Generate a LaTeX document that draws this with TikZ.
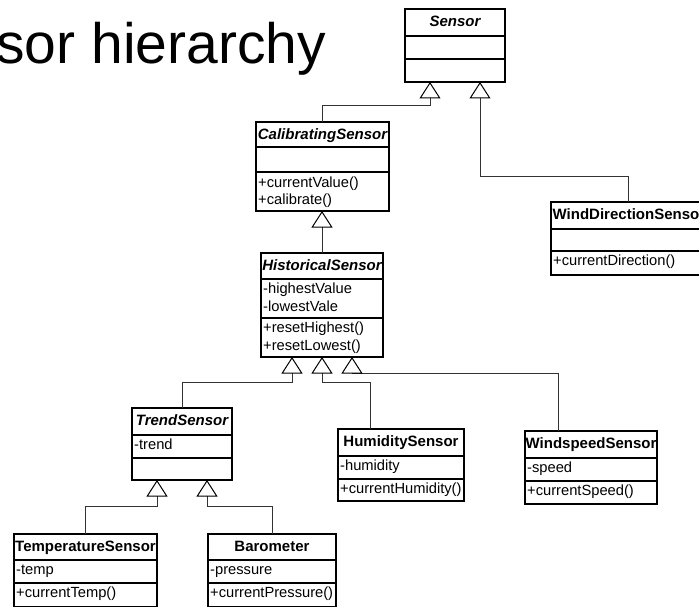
\documentclass[tikz,border=0pt]{standalone}
\usepackage{fontspec}
\setmainfont{Liberation Sans}
\usetikzlibrary{arrows.meta,calc}

\tikzset{
  classbox/.style={draw=black, line width=1.1pt, fill=white, inner sep=0pt,
                   outer sep=0pt, anchor=north west},
  divider/.style={draw=black, line width=1.1pt},
  ttl/.style={font=\fontsize{15}{18}\selectfont\bfseries, anchor=base, inner sep=0pt},
  abstitle/.style={ttl, font=\fontsize{15}{18}\selectfont\bfseries\itshape},
  mem/.style={font=\fontsize{14.7}{17.5}\selectfont, anchor=base west, inner sep=0pt},
  gen/.style={draw=black!80, line width=0.9pt,
              -{Triangle[open, length=16.5pt, width=21pt, color=black, line width=1pt]}},
}

% horizontal compartment line across a class box at height #2
\newcommand\cdiv[2]{\draw[divider] (#1.west |- 0,#2) -- (#1.east |- 0,#2);}

\begin{document}
\begin{tikzpicture}[x=1pt, y=-1pt]
  \clip (0,0) rectangle (699,607);
  \fill[white] (0,0) rectangle (699,607);

  % heading
  \node[font=\fontsize{57}{60}\selectfont, anchor=base east, inner sep=0pt]
    (heading) at (326,63.5) {sor hierarchy};

  % ---------- Sensor ----------
  \node[classbox, minimum width=100pt, minimum height=73pt] (sensor) at (405,9) {};
  \cdiv{sensor}{36} \cdiv{sensor}{59}
  \node[abstitle] (sensor-t) at ($(sensor.north)+(0,17.5)$) {Sensor};

  % ---------- CalibratingSensor ----------
  \node[classbox, minimum width=133pt, minimum height=89pt] (calib) at (256,122) {};
  \cdiv{calib}{147} \cdiv{calib}{172}
  \begin{scope}
    \clip (calib.north west) rectangle (calib.south east);
    \node[abstitle] (calib-t) at ($(calib.north)+(0,17.5)$) {CalibratingSensor};
  \end{scope}
  \node[mem] (calib-o1) at (258,187) {+currentValue()};
  \node[mem] (calib-o2) at (258,204.5) {+calibrate()};

  % ---------- WindDirectionSensor ----------
  \node[classbox, minimum width=154pt, minimum height=73pt] (wdir) at (551,202) {};
  \cdiv{wdir}{229} \cdiv{wdir}{251}
  \node[ttl, anchor=base west] (wdir-t) at (552.5,219.5) {WindDirectionSenso};
  \node[mem] (wdir-o1) at (553,265.5) {+currentDirection()};

  % ---------- HistoricalSensor ----------
  \node[classbox, minimum width=122pt, minimum height=104pt] (hist) at (261,253) {};
  \cdiv{hist}{279} \cdiv{hist}{318}
  \begin{scope}
    \clip (hist.north west) rectangle (hist.south east);
    \node[abstitle] (hist-t) at ($(hist.north)+(0,17.5)$) {HistoricalSensor};
  \end{scope}
  \node[mem] (hist-a1) at (263,293.5) {-highestValue};
  \node[mem] (hist-a2) at (263,311.5) {-lowestVale};
  \node[mem] (hist-o1) at (263,332.5) {+resetHighest()};
  \node[mem] (hist-o2) at (263,350.5) {+resetLowest()};

  % ---------- TrendSensor ----------
  \node[classbox, minimum width=100pt, minimum height=72pt] (trend) at (132,408) {};
  \cdiv{trend}{435} \cdiv{trend}{458}
  \begin{scope}
    \clip (trend.north west) rectangle (trend.south east);
    \node[abstitle] (trend-t) at ($(trend.north)+(0,17.5)$) {TrendSensor};
  \end{scope}
  \node[mem] (trend-a1) at (134,449.5) {-trend};

  % ---------- HumiditySensor ----------
  \node[classbox, minimum width=126pt, minimum height=72pt] (humid) at (338,429) {};
  \cdiv{humid}{456} \cdiv{humid}{479}
  \node[ttl] (humid-t) at ($(humid.north)+(0,17.5)$) {HumiditySensor};
  \node[mem] (humid-a1) at (340,470.5) {-humidity};
  \node[mem] (humid-o1) at (340,493.5) {+currentHumidity()};

  % ---------- WindspeedSensor ----------
  \node[classbox, minimum width=132pt, minimum height=73pt] (wspeed) at (525,431) {};
  \cdiv{wspeed}{458} \cdiv{wspeed}{481}
  \node[ttl] (wspeed-t) at ($(wspeed.north)+(0,17.5)$) {WindspeedSensor};
  \node[mem] (wspeed-a1) at (527,472.5) {-speed};
  \node[mem] (wspeed-o1) at (527,495.5) {+currentSpeed()};

  % ---------- TemperatureSensor ----------
  \node[classbox, minimum width=143pt, minimum height=73pt] (temp) at (14,534) {};
  \cdiv{temp}{560} \cdiv{temp}{583}
  \node[ttl] (temp-t) at ($(temp.north)+(0,17.5)$) {TemperatureSensor};
  \node[mem] (temp-a1) at (16,574.5) {-temp};
  \node[mem] (temp-o1) at (16,597.5) {+currentTemp()};

  % ---------- Barometer ----------
  \node[classbox, minimum width=128pt, minimum height=73pt] (baro) at (208,534) {};
  \cdiv{baro}{560} \cdiv{baro}{583}
  \node[ttl] (baro-t) at ($(baro.north)+(0,17.5)$) {Barometer};
  \node[mem] (baro-a1) at (210,574.5) {-pressure};
  \node[mem] (baro-o1) at (210,597.5) {+currentPressure()};

  % ---------- generalisations ----------
  \draw[gen] (calib.north) -- ++(0,-16.5) -| ($(sensor.south west)+(25,0)$);
  \draw[gen] (wdir.north) -- ++(0,-26) -| ($(sensor.south west)+(75,0)$);
  \draw[gen] (hist.north) -- (hist.north |- calib.south);
  \draw[gen] (trend.north) -- ++(0,-25.5) -| ($(hist.south)+(-30,0)$);
  \draw[gen] ([xshift=-31pt]humid.north) -- ++(0,-47) -| (hist.south);
  \draw[draw=black!80, line width=0.9pt]
    ([xshift=-33pt]wspeed.north) |- ($(hist.south)+(30,16)$);
  \draw[gen] ($(hist.south)+(30,16)$) -- ($(hist.south)+(30,0)$);
  \draw[gen] (temp.north) -- ++(0,-28) -| ($(trend.south)+(-25,0)$);
  \draw[gen] (baro.north) -- ++(0,-28) -| ($(trend.south)+(25,0)$);
\end{tikzpicture}
\end{document}
